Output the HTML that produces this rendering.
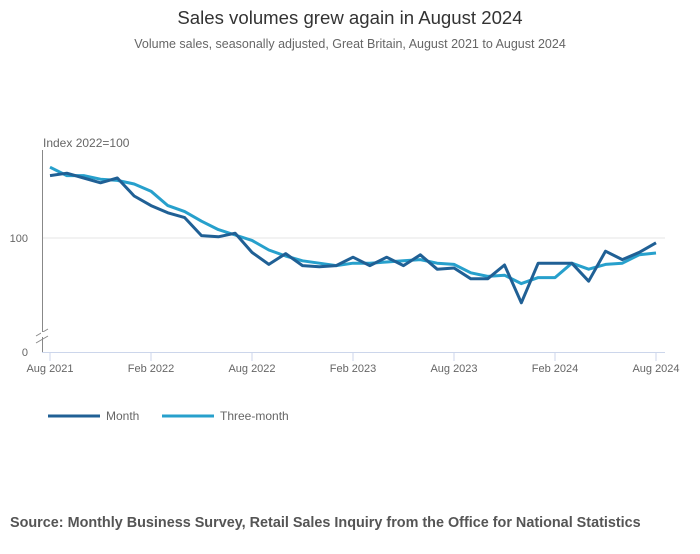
<!DOCTYPE html>
<html><head><meta charset="utf-8"><style>
body{margin:0;background:#fff;width:700px;height:549px;overflow:hidden;font-family:"Liberation Sans",sans-serif}
svg text{font-family:"Liberation Sans",sans-serif}
</style></head><body>
<svg id="chart" width="700" height="549" xmlns="http://www.w3.org/2000/svg">
<text x="350" y="24" text-anchor="middle" font-size="18.6" fill="#333">Sales volumes grew again in August 2024</text>
<text x="350" y="48" text-anchor="middle" font-size="12.5" fill="#666">Volume sales, seasonally adjusted, Great Britain, August 2021 to August 2024</text>
<text x="43" y="147" font-size="12" fill="#666">Index 2022=100</text>
<g id="axes"></g>
<g id="series"></g>
<g>
<g><line x1="48" y1="416" x2="100" y2="416" stroke="#206095" stroke-width="3"/><text x="106" y="420" font-size="12" fill="#666">Month</text></g>
<g><line x1="162" y1="416" x2="214" y2="416" stroke="#27a0cc" stroke-width="3"/><text x="220" y="420" font-size="12" fill="#666">Three-month</text></g>
</g>
<text x="10" y="527" font-size="14.4" font-weight="bold" fill="#555">Source: Monthly Business Survey, Retail Sales Inquiry from the Office for National Statistics</text>
</svg>
<script>
const tickLabels=["Aug 2021","Feb 2022","Aug 2022","Feb 2023","Aug 2023","Feb 2024","Aug 2024"];
const tickMonths=[0,6,12,18,24,30,36];
const monthValues=[105.2,105.4,105.0,104.6,105.0,103.5,102.7,102.1,101.7,100.2,100.1,100.4,98.8,97.8,98.7,97.7,97.6,97.7,98.4,97.7,98.4,97.7,98.6,97.4,97.5,96.6,96.6,97.75,94.6,97.9,97.9,97.9,96.4,98.9,98.2,98.8,99.6];
const threeMonthValues=[105.9,105.2,105.2,104.9,104.8,104.5,103.9,102.7,102.2,101.4,100.7,100.25,99.8,99.0,98.5,98.1,97.9,97.7,97.9,97.9,98.0,98.1,98.2,97.9,97.8,97.1,96.8,96.9,96.2,96.7,96.7,97.9,97.4,97.8,97.9,98.6,98.75];
const NS="http://www.w3.org/2000/svg";
const x=i=>50+i*(606/36);
const y=v=>238-(v-100)*12;
function mk(tag,attrs,parent){const e=document.createElementNS(NS,tag);for(const k in attrs)e.setAttribute(k,attrs[k]);parent.appendChild(e);return e;}
const ax=document.getElementById('axes');
let g=mk('line',{x1:42,y1:y(100),x2:665,y2:y(100),stroke:'#e6e6e6','stroke-width':1},ax);


let t=mk('text',{x:28,y:y(100)+4,'text-anchor':'end','font-size':11,fill:'#666'},ax);t.textContent='100';


t=mk('text',{x:28,y:356,'text-anchor':'end','font-size':11,fill:'#666'},ax);t.textContent='0';


let yl=mk('line',{x1:42.5,y1:150,x2:42.5,y2:352,stroke:'#888','stroke-width':1},ax);


let br=mk('path',{d:'M36,336 L48,329 M36,343 L48,336',stroke:'#888','stroke-width':1,fill:'none'},ax);


mk('rect',{x:41,y:332,width:3,height:5,fill:'#fff'},ax);
let xl=mk('line',{x1:42,y1:352.5,x2:665,y2:352.5,stroke:'#ccd6eb','stroke-width':1},ax);


tickMonths.forEach((m,i)=>{
 const tk=mk('line',{x1:x(m),y1:352,x2:x(m),y2:361,stroke:'#ccd6eb','stroke-width':1},ax);
 
 
 const tl=mk('text',{x:x(m),y:372,'text-anchor':'middle','font-size':11,fill:'#666'},ax);
 tl.textContent=tickLabels[i];
 
 
});
const se=document.getElementById('series');
function line(vals,color,name){
 const p=mk('polyline',{points:vals.map((v,i)=>x(i)+','+y(v)).join(' '),fill:'none',stroke:color,'stroke-width':3,'stroke-linejoin':'round'},se);
 
 
}
line(threeMonthValues,'#27a0cc','three-month-line');
line(monthValues,'#206095','month-line');
</script>
</body></html>
